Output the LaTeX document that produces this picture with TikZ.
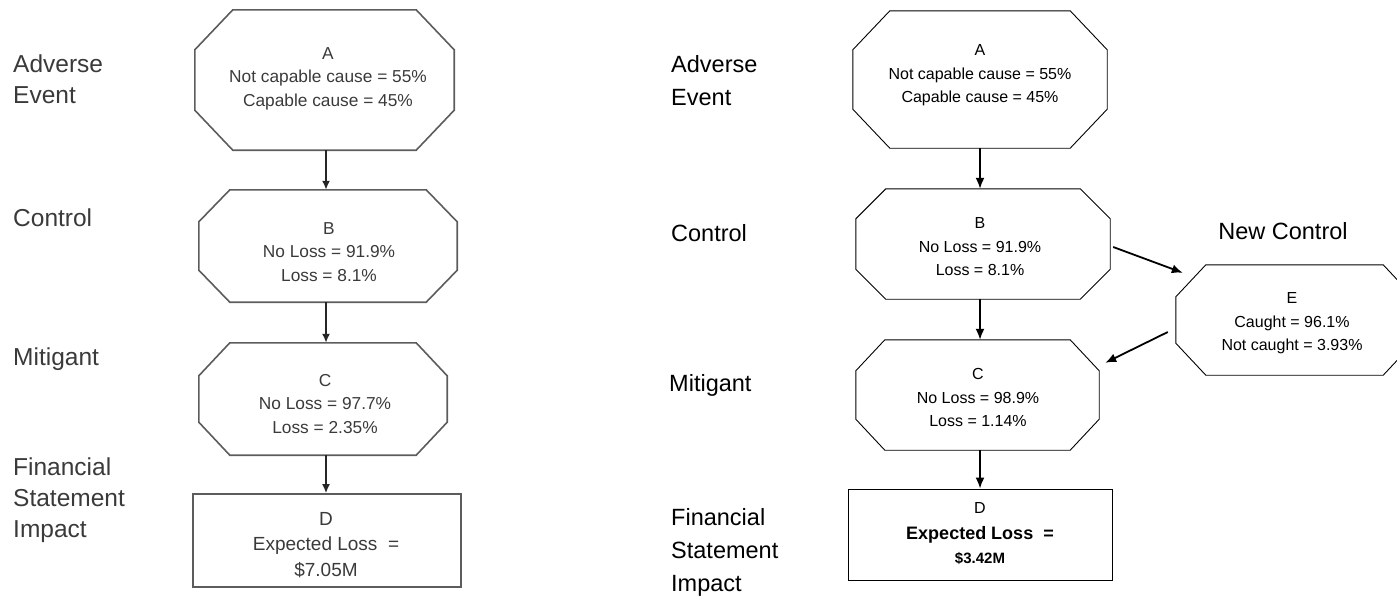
\documentclass[tikz,border=0pt]{standalone}
\usepackage{fontspec}
\setmainfont{Liberation Sans}
\usetikzlibrary{calc,fit,arrows.meta}

\definecolor{oldline}{HTML}{5C5C5C}
\definecolor{oldtext}{HTML}{3A3A3A}

% octagon outline around a (fitted) frame node: node, corner dx, corner dy, style
\newcommand{\octagonframe}[4]{%
  \draw[#4] ($(#1.north west)+(#2,0)$) -- ($(#1.north east)+(-#2,0)$)
    -- ($(#1.north east)+(0,#3)$) -- ($(#1.south east)+(0,-#3)$)
    -- ($(#1.south east)+(-#2,0)$) -- ($(#1.south west)+(#2,0)$)
    -- ($(#1.south west)+(0,-#3)$) -- ($(#1.north west)+(0,#3)$) -- cycle;}

\tikzset{
  frame/.style={fit={#1}, inner sep=0pt, draw=none},
  oldshape/.style={draw=oldline, line width=1.6pt, line join=miter},
  newshape/.style={draw=black, line width=0.9pt, line join=miter},
  oldbox/.style={frame={#1}, draw=oldline, line width=1.6pt},
  newbox/.style={frame={#1}, draw=black, line width=0.9pt},
  oldarrow/.style={draw=black!85, line width=2pt, -{Latex[length=9pt,width=8pt]}},
  newarrow/.style={draw=black, line width=1.8pt, -{Latex[length=11pt,width=9pt]}},
  oldtxt/.style={inner sep=0pt, anchor=north, align=center, text=oldtext,
    font=\fontsize{17.3}{23.5}\selectfont},
  oldtxtD/.style={inner sep=0pt, anchor=north, align=center, text=oldtext,
    font=\fontsize{19}{25.5}\selectfont},
  newtxt/.style={inner sep=0pt, anchor=north, align=center, text=black,
    font=\fontsize{16}{23.5}\selectfont},
  oldlabel/.style={inner sep=0pt, anchor=north west, align=left, text=oldtext,
    font=\fontsize{24.5}{31}\selectfont},
  newlabel/.style={inner sep=0pt, anchor=north west, align=left, text=black,
    font=\fontsize{23.5}{33}\selectfont},
}

\begin{document}
\begin{tikzpicture}[x=1pt, y=-1pt]
\useasboundingbox (0,0) rectangle (1397,598);
\clip (0,0) rectangle (1397,598);

% ---------- original model ----------
\node[oldlabel] (oA) at (13,50.1) {\strut Adverse\\\strut Event};
\node[oldlabel] (oB) at (13,205) {\strut Control};
\node[oldlabel] (oC) at (13,344) {\strut Mitigant};
\node[oldlabel] (oD) at (13,454) {\strut Financial\\\strut Statement\\\strut Impact};

\node[frame={(195,10) (454,150)}] (A) {};
\node[frame={(199,190) (457,302)}] (B) {};
\node[frame={(199,343) (447,455)}] (C) {};
\node[oldbox={(193,494) (461,587)}] (D) {};
\octagonframe{A}{38}{40}{oldshape}
\octagonframe{B}{31}{32}{oldshape}
\octagonframe{C}{31}{33}{oldshape}

\node[oldtxt] (At) at (328,42.7) {\strut A\\\strut Not capable cause = 55\%\\\strut Capable cause = 45\%};
\node[oldtxt] (Bt) at (329,217.7) {\strut B\\\strut No Loss = 91.9\%\\\strut Loss = 8.1\%};
\node[oldtxt] (Ct) at (325,369.7) {\strut C\\\strut No Loss = 97.7\%\\\strut Loss = 2.35\%};
\node[oldtxtD] (Dt) at (326,507) {\strut D\\\strut Expected Loss~~=\\\strut \$7.05M};

\draw[oldarrow] ([xshift=1.5pt]A.south) -- ([xshift=1.5pt]A.south |- B.north);
\draw[oldarrow] ([xshift=1.5pt]B.south -| A.south) -- ([xshift=1.5pt]C.north -| A.south);
\draw[oldarrow] ([xshift=1.5pt]C.south -| A.south) -- ([xshift=1.5pt]D.north -| A.south);

% ---------- model with the new control ----------
\node[newlabel] (nA) at (671,49.3) {\strut Adverse\\\strut Event};
\node[newlabel] (nB) at (671,218.3) {\strut Control};
\node[newlabel] (nC) at (669,368.3) {\strut Mitigant};
\node[newlabel] (nD) at (671,502.3) {\strut Financial\\\strut Statement\\\strut Impact};
\node[newlabel, anchor=north] (nE) at (1283,216.3) {\strut New Control};

\node[frame={(853,11) (1107,148)}] (NA) {};
\node[frame={(856,189) (1110,299)}] (NB) {};
\node[frame={(856,340) (1099,450)}] (NC) {};
\node[newbox={(848,489) (1112,580)}] (ND) {};
\node[frame={(1176,265) (1413,375)}] (NE) {};
\octagonframe{NA}{37}{39}{newshape}
\octagonframe{NB}{30}{30}{newshape}
\octagonframe{NC}{29}{31}{newshape}
\octagonframe{NE}{30}{32}{newshape}

\node[newtxt] (NAt) at (980,39.3) {\strut A\\\strut Not capable cause = 55\%\\\strut Capable cause = 45\%};
\node[newtxt] (NBt) at (980,212.3) {\strut B\\\strut No Loss = 91.9\%\\\strut Loss = 8.1\%};
\node[newtxt] (NCt) at (978,363.3) {\strut C\\\strut No Loss = 98.9\%\\\strut Loss = 1.14\%};
\node[newtxt] (NDt) at (980,497.3) {\strut D\\[2.5pt]\strut{\fontsize{18}{23.5}\selectfont\bfseries Expected Loss~~=}\\\strut{\fontsize{15}{23.5}\selectfont\bfseries \$3.42M}};
\node[newtxt] (NEt) at (1292,287.3) {\strut E\\\strut Caught = 96.1\%\\\strut Not caught = 3.93\%};

\draw[newarrow] (NA.south) -- (NA.south |- NB.north);
\draw[newarrow] (NB.south -| NA.south) -- (NC.north -| NA.south);
\draw[newarrow] (NC.south -| NA.south) -- (ND.north -| NA.south);
\draw[newarrow] ($(NB.east)+(3,3)$) -- ($(NE.north west)+(7,8)$);
\draw[newarrow] ($(NE.west)+(-8,12)$) -- ($(NC.north east)+(6,23)$);
\end{tikzpicture}
\end{document}
